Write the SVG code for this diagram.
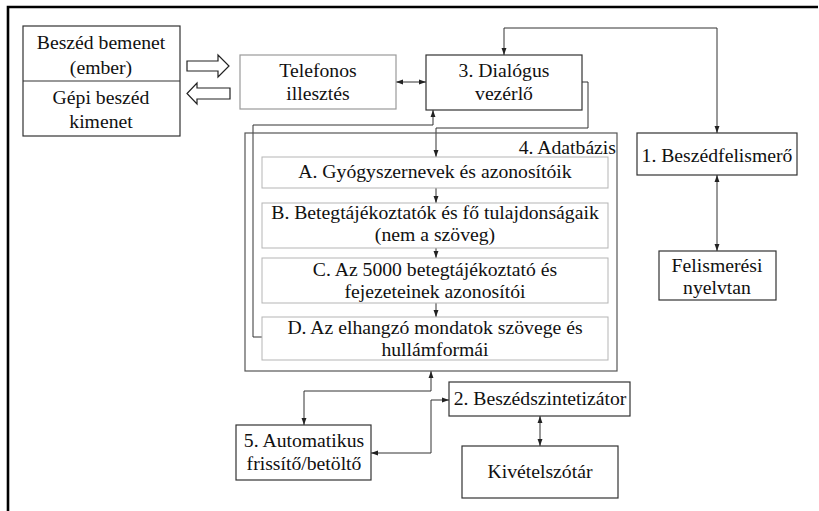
<svg xmlns="http://www.w3.org/2000/svg" width="819" height="511" viewBox="0 0 819 511">
  <defs>
    <marker id="ah" viewBox="0 0 10 10" refX="10" refY="5" markerWidth="7" markerHeight="7" orient="auto-start-reverse" markerUnits="userSpaceOnUse">
      <path d="M0,1.5 L10,5 L0,8.5 Z" fill="#222"/>
    </marker>
  </defs>
  <style>
    text { font-family: "Liberation Serif", "Times New Roman", serif; font-size: 19.7px; fill: #111; text-anchor: middle; }
    .box { fill: #fff; stroke: #333; stroke-width: 1.2; }
    .lbox { fill: #fff; stroke: #9a9a9a; stroke-width: 1.2; }
    .ibox { fill: #fff; stroke: #b5b5b5; stroke-width: 1; }
    .wire { fill: none; stroke: #333; stroke-width: 1; }
    .arr { marker-end: url(#ah); }
    .arr2 { marker-start: url(#ah); marker-end: url(#ah); }
    .hollow { fill: #fff; stroke: #222; stroke-width: 1.2; }
  </style>

  <!-- outer frame -->
  <path d="M8,511 V7 H818" fill="none" stroke="#000" stroke-width="2.6"/>

  <!-- connectors -->
  <g id="connectors">
    <path class="wire arr2" d="M504,55 V28 H717 V133"/>
    <path class="wire arr2" d="M396,82 H426"/>
    <path class="wire arr" d="M582,82 H588 V128 H436 V157"/>
    <path class="wire arr" d="M262,337 H253 V125 H433 V110"/>
    <path class="wire arr" d="M436,188 V203"/>
    <path class="wire arr" d="M436,248 V258"/>
    <path class="wire arr" d="M436,303 V317"/>
    <path class="wire arr2" d="M717,175 V251"/>
    <path class="wire arr2" d="M431,371 V391 H304 V425"/>
    <path class="wire arr2" d="M371,453 H431 V400 H449"/>
    <path class="wire arr2" d="M540,416 V446"/>
    <!-- hollow arrows between speech I/O and telephony -->
    <path class="hollow" d="M187,61 H218 V55 L229,66 L218,77 V71 H187 Z"/>
    <path class="hollow" d="M230,88 H197 V83 L187,93.5 L197,104 V99 H230 Z"/>
  </g>

  <g id="speech-io">
    <rect class="box" x="23" y="26" width="157" height="110"/>
    <line x1="23" y1="81" x2="180" y2="81" stroke="#333" stroke-width="1.2"/>
    <text x="101" y="49">Beszéd bemenet</text>
    <text x="101" y="74">(ember)</text>
    <text x="101" y="104">Gépi beszéd</text>
    <text x="101" y="128">kimenet</text>
  </g>

  <g id="telefonos">
    <rect class="lbox" x="240" y="55" width="156" height="54"/>
    <text x="318" y="77">Telefonos</text>
    <text x="318" y="100">illesztés</text>
  </g>

  <g id="dialogus">
    <rect class="box" x="426" y="55" width="156" height="55"/>
    <text x="504" y="77">3. Dialógus</text>
    <text x="504" y="100">vezérlő</text>
  </g>

  <g id="adatbazis">
    <rect x="245" y="133" width="372" height="238" fill="none" stroke="#555" stroke-width="1.2"/>
    <text x="616" y="154" style="text-anchor:end">4. Adatbázis</text>
  </g>

  <g id="db-a">
    <rect class="ibox" x="262" y="157" width="346" height="31"/>
    <text x="435" y="178">A. Gyógyszernevek és azonosítóik</text>
  </g>
  <g id="db-b">
    <rect class="ibox" x="262" y="203" width="346" height="45"/>
    <text x="435" y="219">B. Betegtájékoztatók és fő tulajdonságaik</text>
    <text x="435" y="241">(nem a szöveg)</text>
  </g>
  <g id="db-c">
    <rect class="ibox" x="262" y="258" width="346" height="45"/>
    <text x="435" y="276">C. Az 5000 betegtájékoztató és</text>
    <text x="435" y="298">fejezeteinek azonosítói</text>
  </g>
  <g id="db-d">
    <rect class="ibox" x="262" y="317" width="346" height="43"/>
    <text x="435" y="334">D. Az elhangzó mondatok szövege és</text>
    <text x="435" y="356">hullámformái</text>
  </g>

  <g id="beszedfelismero">
    <rect class="box" x="637" y="133" width="160" height="42"/>
    <text x="717" y="162">1. Beszédfelismerő</text>
  </g>

  <g id="nyelvtan">
    <rect class="box" x="659" y="251" width="117" height="49"/>
    <text x="717" y="272">Felismerési</text>
    <text x="717" y="294">nyelvtan</text>
  </g>

  <g id="beszedszintetizator">
    <rect class="box" x="449" y="382" width="181" height="34"/>
    <text x="540" y="405">2. Beszédszintetizátor</text>
  </g>

  <g id="kivetelszotar">
    <rect class="box" x="462" y="446" width="156" height="52"/>
    <text x="540" y="478">Kivételszótár</text>
  </g>

  <g id="automatikus">
    <rect class="box" x="236" y="425" width="135" height="55"/>
    <text x="304" y="447">5. Automatikus</text>
    <text x="304" y="470">frissítő/betöltő</text>
  </g>
</svg>
